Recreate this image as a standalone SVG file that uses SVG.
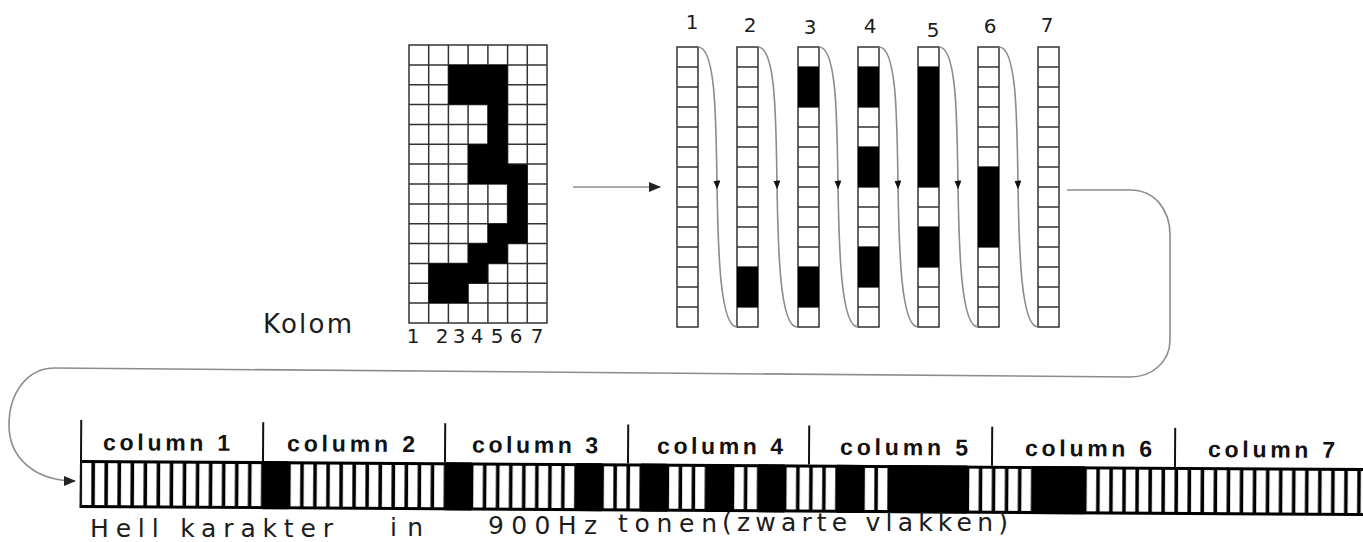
<svg xmlns="http://www.w3.org/2000/svg" width="1363" height="542" viewBox="0 0 1363 542">
<defs>
<style>
.grid{fill:none;stroke:#333;stroke-width:1.5}
.blk{fill:#000}
.conn{fill:none;stroke:#8c8c8c;stroke-width:1.6}
.hand{font-family:"DejaVu Sans","Liberation Sans",sans-serif;fill:#1c1c1c}
.lbl{font-family:"Liberation Sans",Arial,sans-serif;font-weight:bold;font-size:23px;fill:#111}
.sep{stroke:#111;stroke-width:2;fill:none}
</style>
<marker id="am" viewBox="0 0 10 8" refX="5" refY="4" markerWidth="9" markerHeight="7" markerUnits="userSpaceOnUse" orient="auto">
<path d="M0,0L10,4L0,8Z" fill="#111"/>
</marker>
<marker id="ae" viewBox="0 0 12 10" refX="11" refY="5" markerWidth="13" markerHeight="10" markerUnits="userSpaceOnUse" orient="auto">
<path d="M0,0L12,5L0,10Z" fill="#222"/>
</marker>
<g id="sg" class="grid">
<rect x="0" y="0" width="21" height="280"/>
<path d="M0,20h21M0,40h21M0,60h21M0,80h21M0,100h21M0,120h21M0,140h21M0,160h21M0,180h21M0,200h21M0,220h21M0,240h21M0,260h21"/>
</g>
<pattern id="bars" patternUnits="userSpaceOnUse" x="80" y="460" width="13.05" height="48">
<rect width="13.05" height="48" fill="#000"/>
<rect x="2" y="3" width="9.5" height="42" fill="#fff"/>
</pattern>
</defs>
<rect width="1363" height="542" fill="#fff"/>

<g id="pixel-grid">
<path class="grid" d="M428.7,45V323M448.4,45V323M468.1,45V323M487.9,45V323M507.6,45V323M527.3,45V323M409,64.9H547M409,84.7H547M409,104.6H547M409,124.4H547M409,144.3H547M409,164.1H547M409,184H547M409,203.9H547M409,223.7H547M409,243.6H547M409,263.4H547M409,283.3H547M409,303.1H547"/>
<rect class="grid" x="409" y="45" width="138" height="278"/>
<path class="blk" transform="translate(409,45) scale(19.714,19.857)" d="M2,1H5V6H6V10H5V11H4V12H3V13H1V11H3V10H4V9H5V7H3V5H4V3H2Z"/>
<text class="hand" font-size="20" text-anchor="middle" x="413 442 459 477 497 516 537" y="343">1234567</text>
</g>

<g id="kolom-label">
<text class="hand" font-size="26" x="263" y="333" textLength="89" lengthAdjust="spacing">Kolom</text>
</g>

<g id="strip-labels">
<text class="hand" font-size="20" text-anchor="middle" x="692 750 810 870 933 990 1047" y="29 32 34 33 37 33 32">1234567</text>
</g>

<g id="strip-1" transform="translate(677,47)"><use href="#sg"/></g>
<g id="strip-2" transform="translate(737,47)"><use href="#sg"/><rect class="blk" x="0" y="220" width="21" height="40"/></g>
<g id="strip-3" transform="translate(798,47)"><use href="#sg"/><rect class="blk" x="0" y="20" width="21" height="40"/><rect class="blk" x="0" y="220" width="21" height="40"/></g>
<g id="strip-4" transform="translate(858,47)"><use href="#sg"/><rect class="blk" x="0" y="20" width="21" height="40"/><rect class="blk" x="0" y="100" width="21" height="40"/><rect class="blk" x="0" y="200" width="21" height="40"/></g>
<g id="strip-5" transform="translate(918,47)"><use href="#sg"/><rect class="blk" x="0" y="20" width="21" height="120"/><rect class="blk" x="0" y="180" width="21" height="40"/></g>
<g id="strip-6" transform="translate(978,47)"><use href="#sg"/><rect class="blk" x="0" y="120" width="21" height="80"/></g>
<g id="strip-7" transform="translate(1038,47)"><use href="#sg"/></g>

<g id="connectors">
<path class="conn" d="M573,187H660" marker-end="url(#ae)"/>
<path class="conn" d="M698,47c18,0 18,73 19,138s3,142 20,142" marker-mid="url(#am)"/>
<path class="conn" d="M758,47c18,0 18,73 19,138s3,142 20,142" marker-mid="url(#am)"/>
<path class="conn" d="M819,47c18,0 18,73 19,138s3,142 20,142" marker-mid="url(#am)"/>
<path class="conn" d="M879,47c18,0 18,73 19,138s3,142 20,142" marker-mid="url(#am)"/>
<path class="conn" d="M939,47c18,0 18,73 19,138s3,142 20,142" marker-mid="url(#am)"/>
<path class="conn" d="M999,47c18,0 18,73 19,138s3,142 20,142" marker-mid="url(#am)"/>
<path class="conn" d="M1067,190H1130C1155,190 1170,210 1170,235V340C1170,362 1152,377 1130,377L55,368C27,368 9,393 9,425C9,458 35,481 75,481" marker-end="url(#ae)"/>
</g>

<g id="hell-strip" transform="rotate(0.36 80 460)">
<rect x="80" y="460" width="1300" height="48" fill="url(#bars)"/>
<rect class="blk" x="262.7" y="460" width="26.1" height="48"/>
<rect class="blk" x="445.4" y="460" width="26.1" height="48"/>
<rect class="blk" x="575.9" y="460" width="26.1" height="48"/>
<rect class="blk" x="641.15" y="460" width="26.1" height="48"/>
<rect class="blk" x="706.4" y="460" width="26.1" height="48"/>
<rect class="blk" x="758.6" y="460" width="26.1" height="48"/>
<rect class="blk" x="836.9" y="460" width="26.1" height="48"/>
<rect class="blk" x="889.1" y="460" width="78.3" height="48"/>
<rect class="blk" x="1032.65" y="460" width="52.2" height="48"/>
<path class="sep" d="M81,420V508M263,421V460M445,421V460M628,421V460M809,421V460M992,421V460M1175,421V460"/>
<text class="lbl" x="103" y="450" textLength="127" lengthAdjust="spacing">column 1</text>
<text class="lbl" x="287" y="450" textLength="128" lengthAdjust="spacing">column 2</text>
<text class="lbl" x="472" y="450" textLength="126" lengthAdjust="spacing">column 3</text>
<text class="lbl" x="657" y="450" textLength="126" lengthAdjust="spacing">column 4</text>
<text class="lbl" x="840" y="450" textLength="128" lengthAdjust="spacing">column 5</text>
<text class="lbl" x="1025" y="450" textLength="127" lengthAdjust="spacing">column 6</text>
<text class="lbl" x="1208" y="450" textLength="127" lengthAdjust="spacing">column 7</text>
</g>

<g id="caption">
<text class="hand" font-size="25" x="90" y="537" textLength="243" lengthAdjust="spacing">Hell karakter</text>
<text class="hand" font-size="25" x="390" y="536" textLength="33" lengthAdjust="spacing">in</text>
<text class="hand" font-size="25" x="488" y="534" textLength="109" lengthAdjust="spacing">900Hz</text>
<text class="hand" font-size="25" x="618" y="532" textLength="99" lengthAdjust="spacing">tonen</text>
<text class="hand" font-size="25" x="722" y="531" textLength="286" lengthAdjust="spacing">(zwarte vlakken)</text>
</g>
</svg>
